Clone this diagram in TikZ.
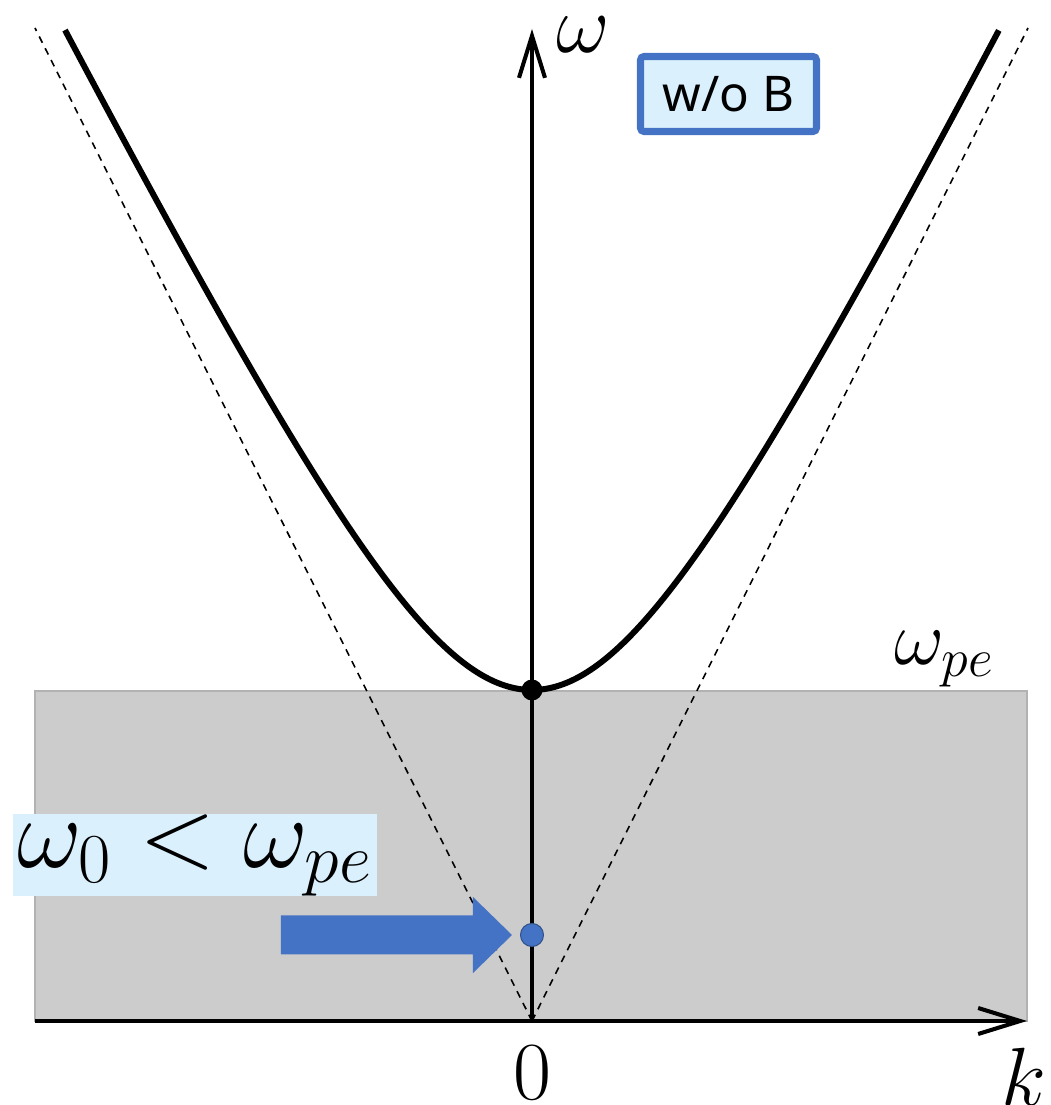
\RequirePackage{fix-cm}
\documentclass[tikz,border=0pt]{standalone}
\usepackage{amsmath}
\usepackage{fontspec}
\newfontfamily\tagfont{Noto Sans}
\usetikzlibrary{arrows.meta,positioning,calc}
\definecolor{accent}{HTML}{4472C4}
\definecolor{tagfill}{HTML}{DAF1FD}
\definecolor{bandgray}{HTML}{CCCCCC}

\begin{document}
\begin{tikzpicture}[
      x=2cm,y=2cm,
      axis/.style={line width=2.3pt,-{Straight Barb[length=8.4mm,width=5.2mm,line width=2.3pt]}},
      lightcone/.style={line width=0.9pt,dash pattern=on 4pt off 3.5pt},
      branch/.style={line width=3.4pt},
      cutoff/.style={circle,fill=black,minimum size=0.42cm,inner sep=0pt},
      probe/.style={circle,draw=accent!70!black,fill=accent,line width=0.6pt,minimum size=0.46cm,inner sep=0pt},
      pointer/.style={fill=accent},
      tagbox/.style={draw=accent,line width=4pt,fill=tagfill,rounded corners=2pt,minimum width=3.52cm,minimum height=1.5cm,inner sep=0pt,font=\tagfont\fontsize{28}{30}\selectfont},
      cond/.style={fill=tagfill,minimum width=7.28cm,minimum height=1.64cm,inner sep=0pt,font=\fontsize{57}{60}\selectfont},
      lab/.style={inner sep=0pt,font=\fontsize{47}{52}\selectfont}]
    \useasboundingbox (-5.32,-0.84) rectangle (5.19,10.21);
    % plasma cut-off band
    \fill[bandgray,draw=black!30,line width=0.6pt] (-4.97,0) rectangle (4.95,3.30);
    \coordinate (O) at (0,0);
    \coordinate (kbeg) at (-4.97,0);
    \coordinate (kend) at (4.95,0);
    \coordinate (wend) at (0,9.92);
    \coordinate (lcL) at (-4.97,9.93);
    \coordinate (lcR) at (4.96,9.93);
    \draw[lightcone] (O) -- (lcL);
    \draw[lightcone] (O) -- (lcR);
    \draw[axis] (kbeg) -- (kend);
    \draw[axis] (O) -- (wend);
    % dispersion branch
    \draw[branch] plot[domain=-4.67:4.67,samples=121,smooth] (\x,{sqrt(3.31*3.31+4*\x*\x)});
    \node[cutoff] (wpe) at (0,3.31) {};
    \node[probe] (w0) at (0,0.86) {};
    \coordinate (tip) at ($(w0)+(-0.20,0)$);
    \fill[pointer] (tip) -- ++(-0.39,0.38) -- ++(0,-0.185) -- ++(-1.92,0) -- ++(0,-0.39)
      -- ++(1.92,0) -- ++(0,-0.185) -- cycle;
    % labels
    \node[lab] (wlab) at (0.51,9.86) {$\omega$};
    \node[lab,font=\fontsize{44}{48}\selectfont] (wpelab) at (4.12,3.62) {$\omega_{pe}$};
    \node[lab] (zero) at (0,-0.52) {$0$};
    \node[lab] (klab) at (4.92,-0.56) {$k$};
    \node[tagbox] (nob) at (1.965,9.27) {w/o B};
    \node[cond] (ineq) at (-3.37,1.66) {$\omega_0 < \omega_{pe}$};
  \end{tikzpicture}
\end{document}
